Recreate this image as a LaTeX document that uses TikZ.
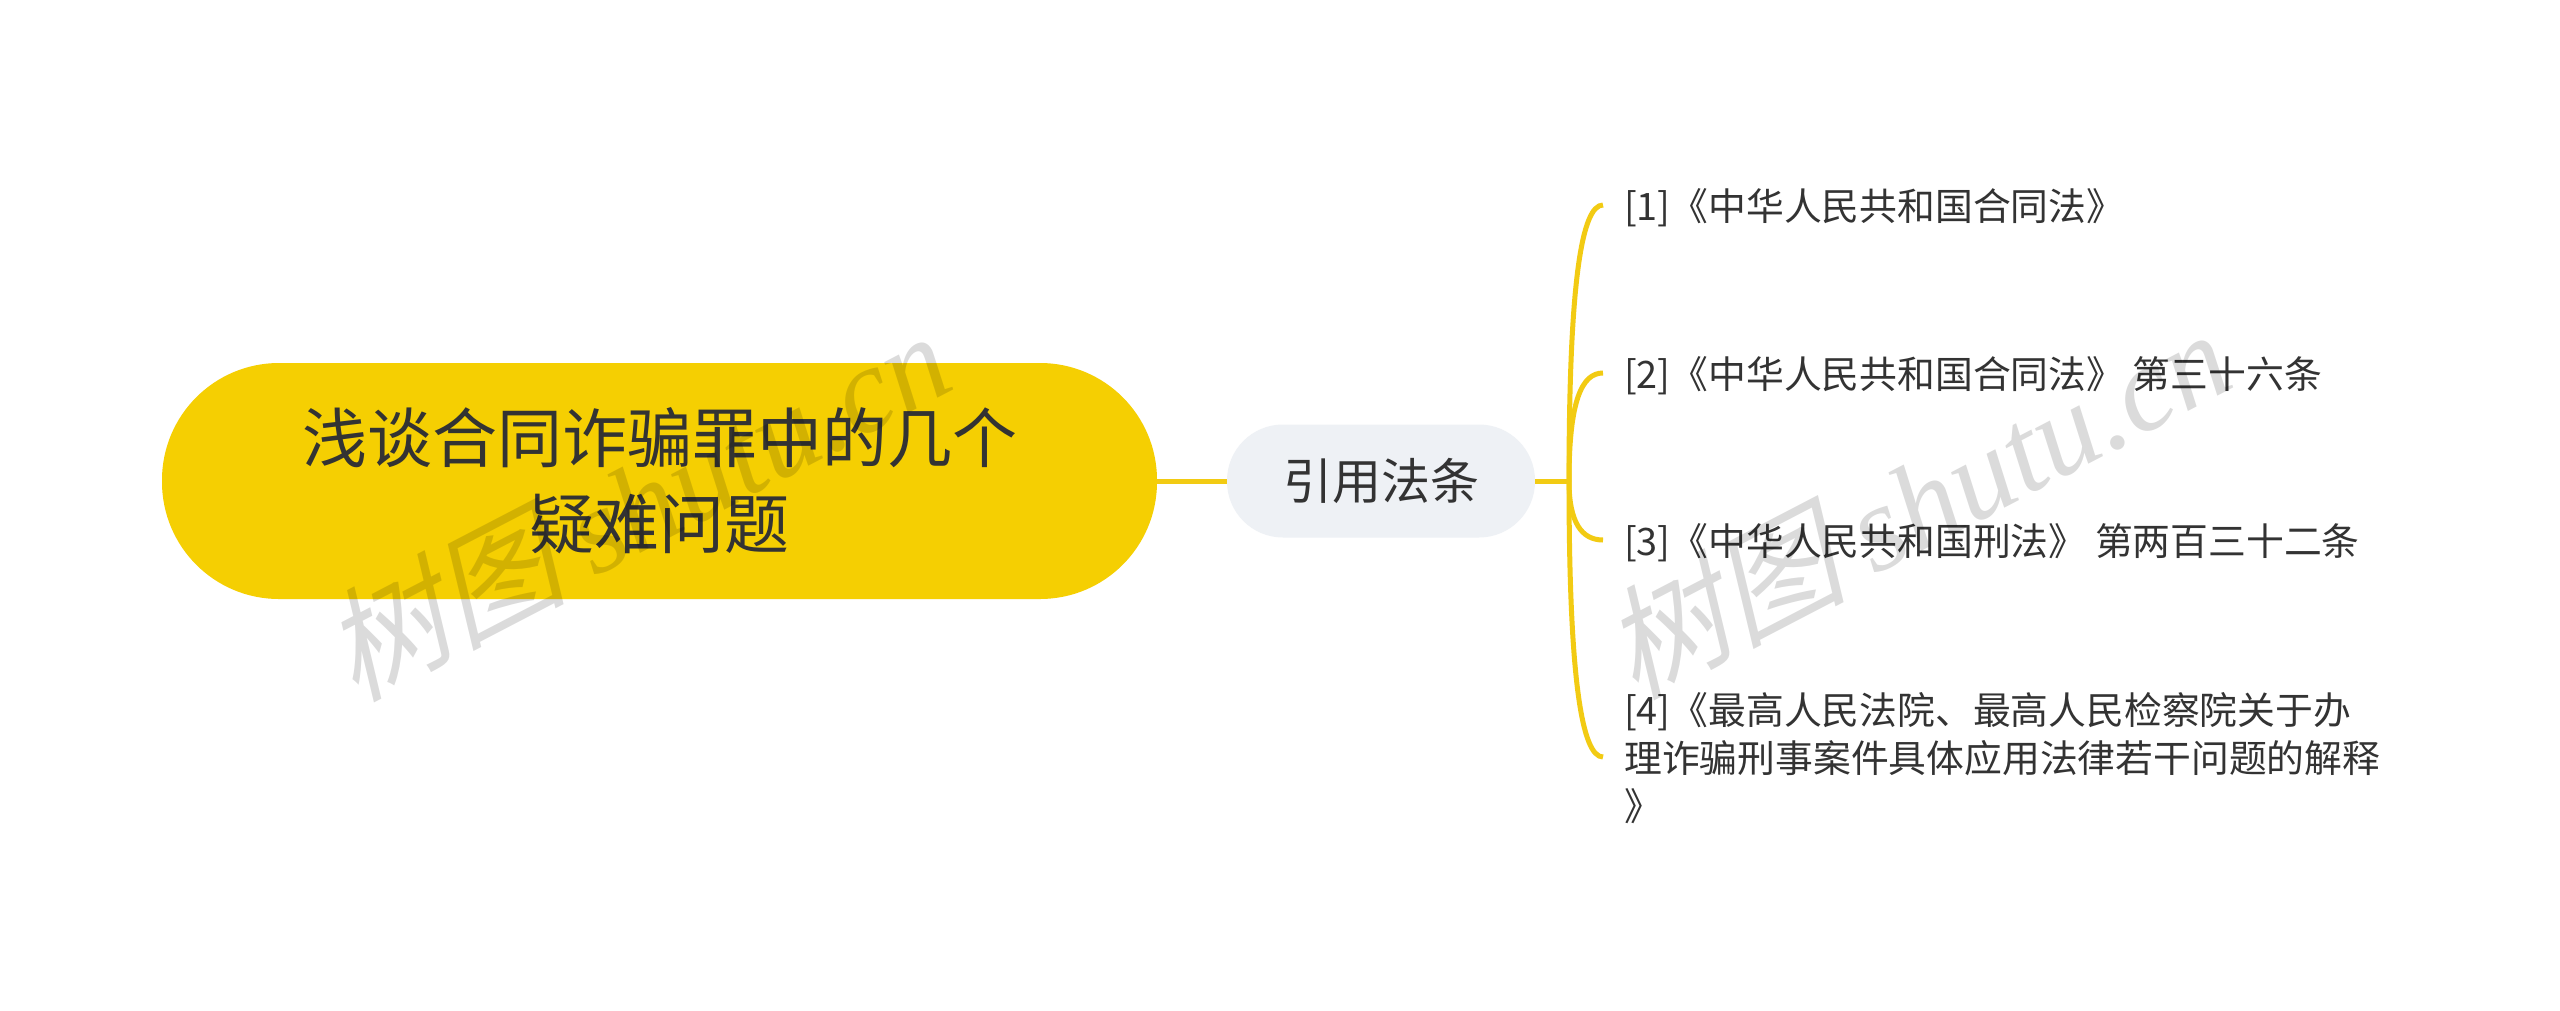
\documentclass[tikz,border=0pt]{standalone}
\usepackage{fontspec}
\setmainfont{Noto Sans CJK SC}
\newfontfamily\wmcjk[FakeSlant=0.25]{Noto Sans CJK SC}
\newfontfamily\wmlat{Liberation Serif}[ItalicFont=* Italic]
\definecolor{rootfill}{HTML}{F5CF02}
\definecolor{subfill}{HTML}{EEF1F5}
\definecolor{linkcol}{HTML}{F2CB13}
\definecolor{txt}{HTML}{333333}
\tikzset{
  x=1pt,y=-1pt,
  rootnode/.style={fill=rootfill,rounded corners=117pt,minimum width=995pt,minimum height=236pt,align=center,inner sep=0pt,text=txt,font=\fontsize{65}{86}\selectfont},
  subnode/.style={fill=subfill,rounded corners=56pt,minimum width=308pt,minimum height=113pt,inner sep=0pt,text=txt,font=\fontsize{49}{60}\selectfont},
  leafnode/.style={anchor=west,align=left,inner xsep=21pt,inner ysep=0pt,text=txt,font=\fontsize{37.8}{48}\selectfont},
  link/.style={draw=linkcol,line width=5pt},
  mark text/.style={text=black,text opacity=0.14,rotate=27.5,inner sep=0pt,font=\fontsize{122}{130}\selectfont},
}
\begin{document}
\begin{tikzpicture}
\useasboundingbox (0,0) rectangle (2560,1010);
\fill[white] (0,0) rectangle (2560,1010);
\node[rootnode] (root) at (659.5,481) {浅谈合同诈骗罪中的几个\\疑难问题};
\node[subnode] (sub) at (1381,481) {引用法条};
\node[leafnode] (l1) at (1603,208) {[1]《中华人民共和国合同法》};
\node[leafnode] (l2) at (1603,376) {[2]《中华人民共和国合同法》 第三十六条};
\node[leafnode] (l3) at (1603,543) {[3]《中华人民共和国刑法》 第两百三十二条};
\node[leafnode] (l4) at (1603,758) {[4]《最高人民法院、最高人民检察院关于办\\理诈骗刑事案件具体应用法律若干问题的解释\\》};
\coordinate (hub) at (1569,481);
\draw[link] (root.east) -- (sub.west);
\draw[link] (sub.east) -- (hub);
\draw[link] (hub) .. controls (1569,280) and (1582,205) .. ([yshift=3pt]l1.west);
\draw[link] (hub) .. controls (1569,400) and (1582,373) .. ([yshift=3pt]l2.west);
\draw[link] (hub) .. controls (1569,523) and (1582,540) .. ([yshift=3pt]l3.west);
\draw[link] (hub) .. controls (1569,680) and (1582,757) .. ([yshift=1pt]l4.west);
\node[mark text] (wm1) at (635,504) {{\wmcjk 树图} {\wmlat\itshape shutu.cn}};
\node[mark text] (wm2) at (1915,502) {{\wmcjk 树图} {\wmlat\itshape shutu.cn}};
\end{tikzpicture}
\end{document}
